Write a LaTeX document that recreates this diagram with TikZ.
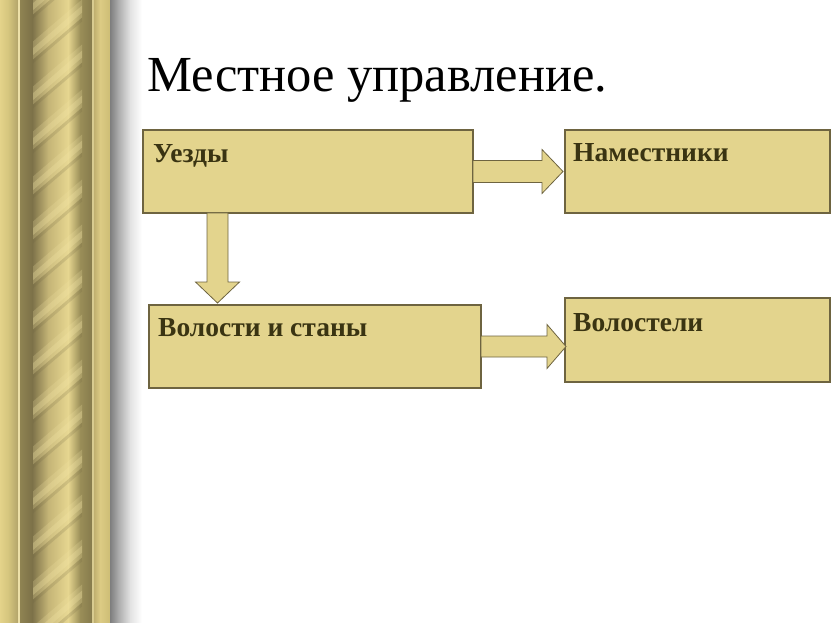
\documentclass[tikz,border=0pt]{standalone}
\usepackage{fontspec}
\setmainfont{Liberation Serif}
\usetikzlibrary{calc}
\definecolor{boxfill}{HTML}{E3D48D}
\definecolor{boxline}{HTML}{6E6440}
\definecolor{boxtext}{HTML}{3A3412}
\definecolor{gA}{HTML}{E4D38A}
\definecolor{gB}{HTML}{D6C67E}
\definecolor{gC}{HTML}{B2A36A}
\definecolor{gL}{HTML}{EDE0A8}
\definecolor{cA}{HTML}{8F8352}
\definecolor{cB}{HTML}{7C7148}
\definecolor{cC}{HTML}{C4B476}
\definecolor{cD}{HTML}{E6D690}
\definecolor{cE}{HTML}{9A8E58}
\definecolor{cF}{HTML}{857A4C}
\definecolor{cL}{HTML}{D8CB90}
\definecolor{hL}{HTML}{F2E4A4}
\definecolor{rA}{HTML}{C0B070}
\definecolor{rB}{HTML}{DCCB84}
\definecolor{rC}{HTML}{CDBD75}
\definecolor{sA}{HTML}{7E7E7E}
\definecolor{sB}{HTML}{AAAAAA}
\definecolor{sC}{HTML}{E2E2E2}
\begin{document}
\begin{tikzpicture}[x=1pt,y=-1pt,
  box/.style={draw=boxline, line width=1.2pt, fill=boxfill, inner sep=0pt, outer sep=0pt, anchor=north west},
  lbl/.style={anchor=base west, inner sep=0pt, text=boxtext, font=\fontsize{27.5}{31}\selectfont\bfseries},
  barrow/.style={draw=boxline, line width=0.8pt, fill=boxfill, line join=miter},
  grad/.style 2 args={left color=#1, right color=#2, draw=none}]
\useasboundingbox (0,0) rectangle (831,623);
% decorative column
\fill[grad={gA}{gB}] (0,0) rectangle (8,623);
\fill[grad={gB}{gC}] (8,0) rectangle (18.2,623);
\fill[gL] (18,0) rectangle (20,623);
\fill[grad={cA}{cB}] (20,0) rectangle (32.2,623);
\fill[grad={cB}{cC}] (32,0) rectangle (48.2,623);
\fill[grad={cC}{cD}] (48,0) rectangle (68.2,623);
\fill[grad={cD}{cE}] (68,0) rectangle (80.2,623);
\fill[grad={cE}{cF}] (80,0) rectangle (92.2,623);
\fill[cL] (92,0) rectangle (94,623);
\fill[grad={rA}{rB}] (94,0) rectangle (100.2,623);
\fill[grad={rB}{rC}] (100,0) rectangle (110.2,623);
\fill[grad={sA}{sB}] (110,0) rectangle (118.2,623);
\fill[grad={sB}{sC}] (118,0) rectangle (130.2,623);
\fill[grad={sC}{white}] (130,0) rectangle (142,623);
\begin{scope}
  \clip (33,0) rectangle (82,623);
  \foreach \k in {-2,...,14}{
    \pgfmathsetmacro{\yy}{\k*45}
    \fill[hL, opacity=0.22] (30,\yy+44) -- (85,\yy-3) -- (85,\yy+15) -- (30,\yy+62) -- cycle;
    \fill[hL, opacity=0.3] (32,\yy+49) -- (85,\yy+3) -- (85,\yy+10) -- (32,\yy+56) -- cycle;
    \fill[boxline, opacity=0.18] (30,\yy+62) -- (85,\yy+15) -- (85,\yy+19) -- (30,\yy+66) -- cycle;
  }
\end{scope}
% title
\node[anchor=base west, inner sep=0pt, font=\fontsize{50.5}{56}\selectfont] (title) at (147,92) {Местное управление.};
% boxes
\node[box, minimum width=330pt, minimum height=83pt] (uezdy) at (143,130) {};
\node[box, minimum width=265pt, minimum height=83pt] (namest) at (565,130) {};
\node[box, minimum width=332pt, minimum height=83pt] (vol) at (149,305) {};
\node[box, minimum width=265pt, minimum height=84pt] (volost) at (565,298) {};
\node[lbl] (t1) at ($(uezdy.north west)+(10,33)$) {Уезды};
\node[lbl] (t2) at ($(namest.north west)+(8,32)$) {Наместники};
\node[lbl] (t3) at ($(vol.north west)+(9,31)$) {Волости и станы};
\node[lbl] (t4) at ($(volost.north west)+(8,33)$) {Волостели};
% arrow Уезды -> Наместники
\coordinate (a1s) at (uezdy.east);
\coordinate (a1e) at ($(namest.west |- uezdy.east)+(-2,0)$);
\draw[barrow] ($(a1s)+(0,-11)$) -- ($(a1e)+(-21,-11)$) -- ($(a1e)+(-21,-22)$) -- (a1e)
  -- ($(a1e)+(-21,22)$) -- ($(a1e)+(-21,11)$) -- ($(a1s)+(0,11)$) -- cycle;
% arrow Уезды -> Волости и станы
\coordinate (d1s) at ($(uezdy.south west)+(74.5,0)$);
\coordinate (d1e) at ($(d1s |- vol.north)+(0,-2)$);
\draw[barrow] ($(d1s)+(-10.5,0)$) -- ($(d1e)+(-10.5,-21)$) -- ($(d1e)+(-22,-21)$) -- (d1e)
  -- ($(d1e)+(22,-21)$) -- ($(d1e)+(10.5,-21)$) -- ($(d1s)+(10.5,0)$) -- cycle;
% arrow Волости и станы -> Волостели
\coordinate (a2s) at (vol.east);
\coordinate (a2e) at ($(volost.west |- vol.east)+(1,0)$);
\draw[barrow] ($(a2s)+(0,-10.5)$) -- ($(a2e)+(-19,-10.5)$) -- ($(a2e)+(-19,-22)$) -- (a2e)
  -- ($(a2e)+(-19,22)$) -- ($(a2e)+(-19,10.5)$) -- ($(a2s)+(0,10.5)$) -- cycle;
\end{tikzpicture}
\end{document}
